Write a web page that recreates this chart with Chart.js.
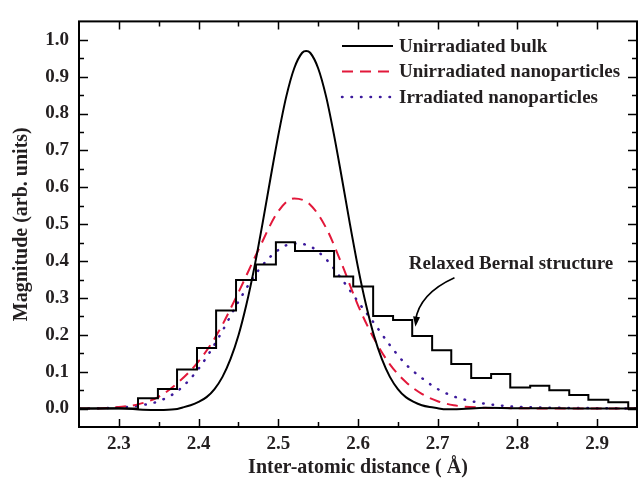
<!DOCTYPE html>
<html>
<head>
<meta charset="utf-8">
<script src="https://cdn.jsdelivr.net/npm/chart.js@4.4.0/dist/chart.umd.min.js"></script>
<style>
  html, body { margin: 0; padding: 0; background: #fff; }
  #wrap { width: 644px; height: 489px; }
</style>
</head>
<body>
<div id="wrap"><canvas id="rdf" width="644" height="489"></canvas></div>
<script>
// axis ticks
const xTicks = [2.3, 2.4, 2.5, 2.6, 2.7, 2.8, 2.9];
const xMinorTicks = [2.35, 2.45, 2.55, 2.65, 2.75, 2.85];
const yTicks = [0.0, 0.1, 0.2, 0.3, 0.4, 0.5, 0.6, 0.7, 0.8, 0.9, 1.0];
const yMinorTicks = [0.05, 0.15, 0.25, 0.35, 0.45, 0.55, 0.65, 0.75, 0.85, 0.95];

// Unirradiated bulk (solid black)
const bulkX = [2.25, 2.30, 2.33, 2.35, 2.37, 2.38, 2.39, 2.40, 2.41, 2.42, 2.43, 2.44, 2.45, 2.46, 2.47, 2.48, 2.49, 2.50, 2.51, 2.52, 2.53, 2.535, 2.54, 2.55, 2.56, 2.57, 2.58, 2.59, 2.60, 2.61, 2.62, 2.63, 2.64, 2.65, 2.66, 2.67, 2.68, 2.69, 2.70, 2.71, 2.73, 2.76, 2.80, 2.85, 2.90, 2.95];
const bulkY = [0, 0.001, -0.003, -0.004, -0.002, 0.003, 0.009, 0.018, 0.031, 0.053, 0.086, 0.134, 0.198, 0.282, 0.383, 0.499, 0.622, 0.741, 0.846, 0.923, 0.965, 0.970, 0.965, 0.923, 0.846, 0.741, 0.622, 0.499, 0.383, 0.282, 0.198, 0.134, 0.086, 0.053, 0.031, 0.018, 0.009, 0.004, 0.001, -0.002, -0.001, 0.002, 0.001, 0.001, 0, 0];

// Unirradiated nanoparticles (red dashed)
const nanoX = [2.25, 2.28, 2.30, 2.325, 2.35, 2.375, 2.40, 2.425, 2.45, 2.475, 2.50, 2.52, 2.54, 2.56, 2.58, 2.60, 2.62, 2.64, 2.66, 2.68, 2.70, 2.72, 2.75, 2.80, 2.85, 2.90, 2.95];
const nanoY = [0, 0.001, 0.004, 0.012, 0.032, 0.072, 0.128, 0.208, 0.315, 0.430, 0.535, 0.570, 0.553, 0.490, 0.390, 0.280, 0.190, 0.120, 0.072, 0.040, 0.020, 0.009, 0.003, 0.001, 0, 0, 0];

// Irradiated nanoparticles (blue dotted)
const irrX = [2.25, 2.28, 2.30, 2.325, 2.35, 2.375, 2.40, 2.425, 2.45, 2.475, 2.50, 2.52, 2.54, 2.56, 2.58, 2.60, 2.62, 2.64, 2.66, 2.68, 2.70, 2.72, 2.74, 2.76, 2.78, 2.80, 2.85, 2.90, 2.95];
const irrY = [0, 0.001, 0.003, 0.008, 0.020, 0.050, 0.108, 0.192, 0.290, 0.375, 0.430, 0.448, 0.440, 0.405, 0.350, 0.290, 0.232, 0.172, 0.120, 0.083, 0.053, 0.033, 0.021, 0.013, 0.008, 0.005, 0.002, 0.001, 0];

// Relaxed Bernal structure histogram (bin edges + heights)
const binEdges = [2.324, 2.349, 2.373, 2.398, 2.422, 2.447, 2.472, 2.497, 2.521, 2.545, 2.570, 2.594, 2.619, 2.644, 2.668, 2.693, 2.717, 2.742, 2.767, 2.791, 2.816, 2.840, 2.865, 2.889, 2.914, 2.939];
const binValues = [0.028, 0.053, 0.106, 0.164, 0.266, 0.349, 0.391, 0.451, 0.427, 0.427, 0.358, 0.331, 0.251, 0.240, 0.197, 0.158, 0.121, 0.083, 0.094, 0.057, 0.062, 0.050, 0.037, 0.024, 0.017];

const textColor = '#231f20';
const serif = 'Liberation Serif, Times New Roman, serif';
const redColor = '#e2183a';
const blueColor = '#3c1a9c';

function toPoints(xs, ys) {
    return xs.map((x, i) => ({ x: x, y: ys[i] }));
}

// histogram as a stepped line: each point is a bin's left edge with its height
const histPoints = [{ x: 2.25, y: 0 }];
binValues.forEach((v, i) => histPoints.push({ x: binEdges[i], y: v }));
histPoints.push({ x: binEdges[binEdges.length - 1], y: 0 });
histPoints.push({ x: 2.95, y: 0 });

// frame with inward ticks on all four sides
const frameTicks = {
    id: 'frameTicks',
    afterDatasetsDraw(chart) {
        const { ctx, chartArea: a, scales: { x, y } } = chart;
        ctx.save();
        ctx.strokeStyle = '#000';
        ctx.lineWidth = 1.5;
        ctx.beginPath();
        const xt = (list, len) => list.forEach(v => {
            const px = Math.round(x.getPixelForValue(v)) + 0.5;
            ctx.moveTo(px, a.bottom); ctx.lineTo(px, a.bottom - len);
            ctx.moveTo(px, a.top); ctx.lineTo(px, a.top + len);
        });
        const yt = (list, len) => list.forEach(v => {
            const py = Math.round(y.getPixelForValue(v)) + 0.5;
            ctx.moveTo(a.left, py); ctx.lineTo(a.left + len, py);
            ctx.moveTo(a.right, py); ctx.lineTo(a.right - len, py);
        });
        xt(xTicks, 8); xt(xMinorTicks, 5);
        yt(yTicks, 9); yt(yMinorTicks, 5);
        ctx.stroke();
        ctx.lineWidth = 2;
        ctx.strokeRect(a.left, a.top, a.right - a.left, a.bottom - a.top);
        ctx.restore();
    }
};

// legend in the upper right
const legendBox = {
    id: 'legendBox',
    afterDraw(chart) {
        const { ctx } = chart;
        const rows = [1, 2, 3];
        ctx.save();
        ctx.font = 'bold 19px ' + serif;
        ctx.textBaseline = 'middle';
        ctx.fillStyle = textColor;
        rows.forEach((di, i) => {
            const ds = chart.data.datasets[di];
            const yy = 46 + i * 25.5;
            ctx.beginPath();
            ctx.strokeStyle = ds.borderColor;
            ctx.lineWidth = ds.borderWidth;
            ctx.lineCap = ds.borderCapStyle || 'butt';
            ctx.setLineDash(ds.borderDash || []);
            ctx.moveTo(342, yy);
            ctx.lineTo(393, yy);
            ctx.stroke();
            ctx.setLineDash([]);
            ctx.fillText(ds.label, 399, yy + 1);
        });
        ctx.restore();
    }
};

// "Relaxed Bernal structure" note with curved arrow
const bernalNote = {
    id: 'bernalNote',
    afterDraw(chart) {
        const { ctx, scales: { x, y } } = chart;
        ctx.save();
        ctx.font = 'bold 19px ' + serif;
        ctx.textAlign = 'center';
        ctx.textBaseline = 'middle';
        ctx.fillStyle = textColor;
        ctx.fillText('Relaxed Bernal structure', x.getPixelForValue(2.792), y.getPixelForValue(0.391));

        const x0 = x.getPixelForValue(2.721), y0 = y.getPixelForValue(0.355);
        const cx = x.getPixelForValue(2.677), cy = y.getPixelForValue(0.312);
        const x1 = x.getPixelForValue(2.672), y1 = y.getPixelForValue(0.222);
        ctx.strokeStyle = '#000';
        ctx.lineWidth = 1.6;
        ctx.beginPath();
        ctx.moveTo(x0, y0);
        ctx.quadraticCurveTo(cx, cy, x1, y1 - 6);
        ctx.stroke();
        const ang = Math.atan2(y1 - cy, x1 - cx);
        ctx.beginPath();
        ctx.moveTo(x1, y1);
        ctx.lineTo(x1 - 10 * Math.cos(ang) + 3.5 * Math.sin(ang), y1 - 10 * Math.sin(ang) - 3.5 * Math.cos(ang));
        ctx.lineTo(x1 - 10 * Math.cos(ang) - 3.5 * Math.sin(ang), y1 - 10 * Math.sin(ang) + 3.5 * Math.cos(ang));
        ctx.closePath();
        ctx.fillStyle = '#000';
        ctx.fill();
        ctx.restore();
    }
};

const tickFont = { family: serif, weight: 'bold', size: 19 };
const titleFont = { family: serif, weight: 'bold', size: 20 };

new Chart(document.getElementById('rdf'), {
    type: 'line',
    data: {
        datasets: [{
            label: 'Relaxed Bernal structure',
            data: histPoints,
            stepped: 'before',
            borderColor: '#000',
            borderWidth: 2,
            pointRadius: 0,
            fill: false
        }, {
            label: 'Unirradiated bulk',
            data: toPoints(bulkX, bulkY),
            borderColor: '#000',
            borderWidth: 2,
            pointRadius: 0,
            cubicInterpolationMode: 'monotone',
            fill: false
        }, {
            label: 'Unirradiated nanoparticles',
            data: toPoints(nanoX, nanoY),
            borderColor: redColor,
            borderWidth: 2,
            borderDash: [11, 7],
            pointRadius: 0,
            cubicInterpolationMode: 'monotone',
            fill: false
        }, {
            label: 'Irradiated nanoparticles',
            data: toPoints(irrX, irrY),
            borderColor: blueColor,
            borderWidth: 2.5,
            borderDash: [0.5, 9],
            borderCapStyle: 'round',
            pointRadius: 0,
            cubicInterpolationMode: 'monotone',
            fill: false
        }]
    },
    options: {
        responsive: false,
        animation: false,
        devicePixelRatio: 1,
        layout: { padding: { top: 15, right: 7, left: 0, bottom: 0 } },
        plugins: {
            legend: { display: false },
            tooltip: { enabled: false }
        },
        scales: {
            x: {
                type: 'linear',
                min: 2.25,
                max: 2.95,
                grid: { display: false, drawTicks: false },
                border: { display: false },
                afterBuildTicks: s => { s.ticks = xTicks.map(v => ({ value: v })); },
                afterFit: s => { s.height = 62; },
                ticks: {
                    padding: 6,
                    color: textColor,
                    font: tickFont,
                    maxRotation: 0,
                    autoSkip: false,
                    callback: v => Number(v).toFixed(1)
                },
                title: {
                    display: true,
                    text: 'Inter-atomic distance ( Å)',
                    color: textColor,
                    font: titleFont,
                    padding: { top: 0, bottom: 9 }
                }
            },
            y: {
                type: 'linear',
                min: -0.05,
                max: 1.05,
                grid: { display: false, drawTicks: false },
                border: { display: false },
                afterBuildTicks: s => { s.ticks = yTicks.map(v => ({ value: v })); },
                afterFit: s => { s.width = 79; },
                ticks: {
                    padding: 10,
                    color: textColor,
                    font: tickFont,
                    autoSkip: false,
                    callback: v => Number(v).toFixed(1)
                },
                title: {
                    display: true,
                    text: 'Magnitude (arb. units)',
                    color: textColor,
                    font: titleFont,
                    padding: { top: 10, bottom: 0 }
                }
            }
        }
    },
    plugins: [frameTicks, legendBox, bernalNote]
});
</script>
</body>
</html>
